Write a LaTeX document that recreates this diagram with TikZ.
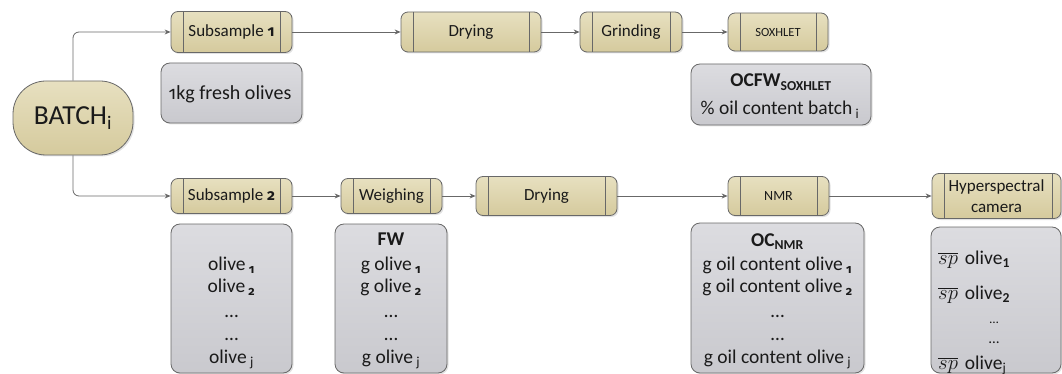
\documentclass[tikz,border=0pt]{standalone}
\usepackage{fontspec}
\setmainfont{Carlito}
% old-style figures for the indices
\newfontfamily\osf{Fira Sans}[Numbers=OldStyle, Scale=0.9]
\usetikzlibrary{arrows.meta,shadows}

\definecolor{linec}{HTML}{686868}
\definecolor{ink}{HTML}{1A1A1A}
\definecolor{tanT}{HTML}{E7E0C0}
\definecolor{tanB}{HTML}{D5CA9D}
\definecolor{grayT}{HTML}{DCDCE0}
\definecolor{grayB}{HTML}{C9C9CE}

\newcommand{\onum}[1]{{\osf #1}}
\newcommand{\idx}[1]{\textsubscript{\osf\bfseries #1}}

\tikzset{
  barl/.initial=12pt,
  barr/.initial=12pt,
  soft/.style={drop shadow={shadow xshift=1.5pt, shadow yshift=-1.5pt, opacity=0.25, fill=black!45}},
  conn/.style={draw=linec, line width=0.8pt, rounded corners=6pt,
    -{Stealth[length=6pt,width=5pt]}},
  proc/.style 2 args={draw=linec, line width=0.8pt, rounded corners=7pt,
    top color=tanT, bottom color=tanB, soft,
    minimum width=#1pt, minimum height=#2pt, inner sep=0pt,
    align=center, text=ink, font=\fontsize{17}{21}\selectfont,
    path picture={
      \draw[linec, line width=0.8pt]
        ([xshift=\pgfkeysvalueof{/tikz/barl}]path picture bounding box.north west) --
        ([xshift=\pgfkeysvalueof{/tikz/barl}]path picture bounding box.south west)
        ([xshift=-\pgfkeysvalueof{/tikz/barr}]path picture bounding box.north east) --
        ([xshift=-\pgfkeysvalueof{/tikz/barr}]path picture bounding box.south east);
    }},
  term/.style={draw=linec, line width=0.8pt, rounded corners=33pt,
    top color=tanT, bottom color=tanB, soft,
    minimum width=120pt, minimum height=74pt, inner sep=0pt,
    text=ink, font=\fontsize{27.5}{32}\selectfont},
  gbox/.style 2 args={draw=linec, line width=0.8pt, rounded corners=9pt,
    top color=grayT, bottom color=grayB, soft,
    minimum width=#1pt, minimum height=#2pt, inner sep=0pt},
  txt/.style={anchor=base, inner sep=0pt, text=ink, font=\fontsize{19.5}{23}\selectfont},
  head/.style={txt, font=\fontsize{19.5}{23}\selectfont\bfseries},
}

\begin{document}
\begin{tikzpicture}[x=1pt, y=-1pt]
\useasboundingbox (0,0) rectangle (1062,374);

% start node
\node[term] (batch) at (73,118) {BATCH\textsubscript{i}};

% upper branch: whole-batch oil content
\node[proc={121}{41}] (sub1) at (231.5,32) {Subsample \onum{\bfseries 1}};
\node[proc={140}{40}] (dry1) at (471,32) {Drying};
\node[proc={102}{40}] (grind) at (631,32) {Grinding};
\node[proc={100}{38}, font=\fontsize{12.5}{15}\selectfont] (sox) at (778,32) {SOXHLET};

\node[gbox={141}{60}] (kg) at (231.5,93) {};
\node[txt, font=\fontsize{20}{24}\selectfont] (kgt) at (230,100) {\onum{1}kg fresh olives};

\node[gbox={180}{61}] (ocfw) at (781,94.5) {};
\node[head] (ocfwh) at (781,87) {OCFW\textsubscript{SOXHLET}};
\node[txt] (ocfwt) at (780,115) {\% oil content batch\,\textsubscript{i}};

% lower branch: single olives
\node[proc={121}{35}] (sub2) at (231.5,196) {Subsample \onum{\bfseries 2}};
\node[proc={101}{35}] (weigh) at (391.5,196) {Weighing};
\node[proc={141}{39}] (dry2) at (546.5,196) {Drying};
\node[proc={101}{39}, font=\fontsize{14}{17}\selectfont] (nmr) at (778.5,196) {NMR};
\node[proc={129}{45}, barr=9pt] (hyper) at (996.5,196) {Hyperspectral\\camera};

% result tables
\node[gbox={121}{149}] (g1) at (231.5,298.5) {};
\node[txt] (g1a) at (231.5,270) {olive\,\idx{1}};
\node[txt] (g1b) at (231.5,292) {olive\,\idx{2}};
\node[txt] (g1c) at (231.5,317) {\ldots};
\node[txt] (g1d) at (231.5,340) {\ldots};
\node[txt] (g1e) at (231.5,363) {olive\,\textsubscript{j}};

\node[gbox={112}{149}] (g2) at (391,298.5) {};
\node[head] (g2h) at (391,245) {FW};
\node[txt] (g2a) at (391,270) {g olive\,\idx{1}};
\node[txt] (g2b) at (391,292) {g olive\,\idx{2}};
\node[txt] (g2c) at (391,317) {\ldots};
\node[txt] (g2d) at (391,340) {\ldots};
\node[txt] (g2e) at (391,363) {g olive\,\textsubscript{j}};

\node[gbox={173}{150}] (g3) at (777.5,298) {};
\node[head] (g3h) at (777.5,246) {OC\textsubscript{NMR}};
\node[txt] (g3a) at (777.5,270) {g oil content olive\,\idx{1}};
\node[txt] (g3b) at (777.5,292) {g oil content olive\,\idx{2}};
\node[txt] (g3c) at (777.5,317) {\ldots};
\node[txt] (g3d) at (777.5,340) {\ldots};
\node[txt] (g3e) at (777.5,363) {g oil content olive\,\textsubscript{j}};

\node[gbox={130}{146}] (g4) at (996,300) {};
\node[txt, anchor=base west] (g4a) at (938,264)
  {\fontsize{21}{23}\selectfont$\overline{sp}$\hspace{7pt}\fontsize{19.5}{23}\selectfont olive\textsubscript{\textbf{1}}};
\node[txt, anchor=base west] (g4b) at (938,299)
  {\fontsize{21}{23}\selectfont$\overline{sp}$\hspace{7pt}\fontsize{19.5}{23}\selectfont olive\textsubscript{\textbf{2}}};
\node[txt, font=\fontsize{13}{15}\selectfont] (g4c) at (994,323) {\ldots};
\node[txt, font=\fontsize{15}{17}\selectfont] (g4d) at (994,343) {\ldots};
\node[txt, anchor=base west] (g4e) at (938,369)
  {\fontsize{21}{23}\selectfont$\overline{sp}$\hspace{7pt}\fontsize{19.5}{23}\selectfont olive\textsubscript{j}};

% connectors
\draw[conn] (batch.north) |- (sub1.west);
\draw[conn] (batch.south) |- (sub2.west);
\draw[conn] (sub1.east) -- (dry1.west);
\draw[conn] (dry1.east) -- (grind.west);
\draw[conn] (grind.east) -- (sox.west);
\draw[conn] (sub2.east) -- (weigh.west);
\draw[conn] (weigh.east) -- (dry2.west);
\draw[conn] (dry2.east) -- (nmr.west);
\draw[conn] (nmr.east) -- (hyper.west);
\end{tikzpicture}
\end{document}
